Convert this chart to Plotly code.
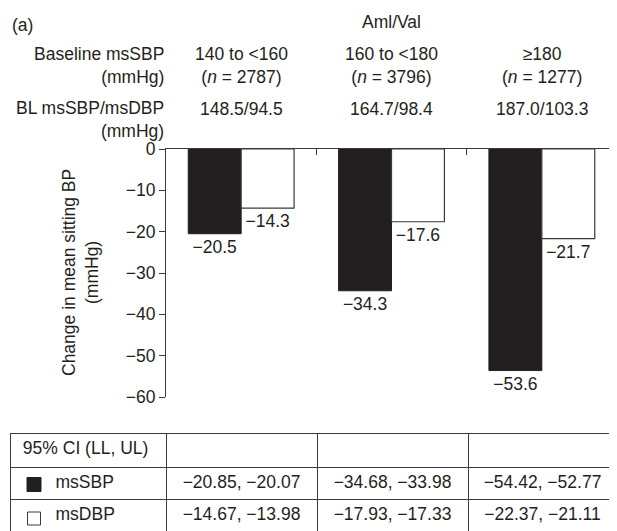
import plotly.graph_objects as go

# ---- data ----
categories = ["140 to <160", "160 to <180", "≥180"]
n_values = [2787, 3796, 1277]
baseline_bp = ["148.5/94.5", "164.7/98.4", "187.0/103.3"]
msSBP = [-20.5, -34.3, -53.6]
msDBP = [-14.3, -17.6, -21.7]
ci_sbp = ["−20.85, −20.07", "−34.68, −33.98", "−54.42, −52.77"]
ci_dbp = ["−14.67, −13.98", "−17.93, −17.33", "−22.37, −21.11"]
y_ticks = [0, -10, -20, -30, -40, -50, -60]

# the page body has an 8px margin; the figure runs a little past the bottom of the view
OFF = 8
W = 617 - OFF
H = 531 - OFF + 4
FONT = "Liberation Sans, Arial, Helvetica, sans-serif"
FS = 17.5
TXT = "#231f20"
LINE = "#3a3a3a"

def px_y(y):
    return (H - (y - OFF)) / H

def px_x(x):
    return (x - OFF) / W

xpos = list(range(len(categories)))

fig = go.Figure()
fig.add_trace(go.Bar(
    x=xpos, y=msSBP, name="msSBP",
    marker=dict(color="#231f20", line=dict(color="#231f20", width=1)),
    text=[f"{v:.1f}".replace("-", "−") for v in msSBP],
    textposition="outside", textfont=dict(size=FS, color=TXT, family=FONT),
    cliponaxis=False,
))
fig.add_trace(go.Bar(
    x=xpos, y=msDBP, name="msDBP",
    marker=dict(color="white", line=dict(color=LINE, width=1.2)),
    text=[f"{v:.1f}".replace("-", "−") for v in msDBP],
    textposition="outside", textfont=dict(size=FS, color=TXT, family=FONT),
    cliponaxis=False,
))

# ---- table ----
NB = "\u00a0"
KEYPAD = NB * 7 + "\u2009"
fig.add_trace(go.Table(
    domain=dict(x=[px_x(10), 1], y=[px_y(531), px_y(433)]),
    columnwidth=[156, 151, 151, 149],
    header=dict(
        values=[NB + "95% CI (LL, UL)", "", "", ""],
        align=["left", "center", "center", "center"],
        line=dict(color=LINE, width=1),
        fill=dict(color="white"),
        font=dict(size=FS, color=TXT, family=FONT),
        height=34,
    ),
    cells=dict(
        values=[
            [KEYPAD + "msSBP", KEYPAD + "msDBP"],
            [ci_sbp[0], ci_dbp[0]],
            [ci_sbp[1], ci_dbp[1]],
            [ci_sbp[2], ci_dbp[2]],
        ],
        align=["left", "center", "center", "center"],
        line=dict(color=LINE, width=1),
        fill=dict(color="white"),
        font=dict(size=FS, color=TXT, family=FONT),
        height=32,
    ),
))

# legend keys inside the table
shapes = [
    dict(type="rect", xref="paper", yref="paper",
         x0=px_x(27), x1=px_x(41), y0=px_y(491.5), y1=px_y(477.5),
         fillcolor="#231f20", line=dict(color="#231f20", width=1)),
    dict(type="rect", xref="paper", yref="paper",
         x0=px_x(27.5), x1=px_x(40.5), y0=px_y(525), y1=px_y(512),
         fillcolor="white", line=dict(color=LINE, width=1)),
]

annotations = []
annotations.append(dict(text="(a)", x=px_x(10), y=px_y(25), xref="paper", yref="paper",
                        xanchor="left", yanchor="middle", showarrow=False))
annotations.append(dict(text="Aml/Val", x=1, y=px_y(22), xref="x", yref="paper",
                        xanchor="center", yanchor="middle", showarrow=False))
annotations.append(dict(text="Baseline msSBP<br>(mmHg)", x=px_x(166), y=px_y(65.5), xref="paper", yref="paper",
                        xanchor="right", yanchor="middle", align="right", showarrow=False))
annotations.append(dict(text="BL msSBP/msDBP<br>(mmHg)", x=px_x(166), y=px_y(119.5), xref="paper", yref="paper",
                        xanchor="right", yanchor="middle", align="right", showarrow=False))
for i, (cat, n, bl) in enumerate(zip(categories, n_values, baseline_bp)):
    annotations.append(dict(text=f"{cat.replace('<', '&lt;')}<br>(<i>n</i> = {n})", x=i, y=px_y(65.5),
                            xref="x", yref="paper", xanchor="center", yanchor="middle",
                            align="center", showarrow=False))
    annotations.append(dict(text=bl, x=i, y=px_y(109), xref="x", yref="paper",
                            xanchor="center", yanchor="middle", showarrow=False))
annotations.append(dict(text="Change in mean sitting BP<br>(mmHg)", x=px_x(80), y=px_y(273),
                        xref="paper", yref="paper", textangle=-90, xanchor="center", yanchor="middle",
                        align="center", showarrow=False))

fig.update_layout(
    width=W, height=H,
    margin=dict(l=0, r=0, t=0, b=0),
    paper_bgcolor="white", plot_bgcolor="white",
    font=dict(family=FONT, size=FS, color=TXT),
    showlegend=False,
    barmode="group", bargap=0.296, bargroupgap=0,
    annotations=annotations,
    shapes=shapes,
    xaxis=dict(
        domain=[px_x(166), 1], range=[-0.5, 2.5], side="top",
        showline=True, linecolor=LINE, linewidth=1.2,
        ticks="inside", tickvals=[0.5, 1.5], ticklen=6, tickcolor=LINE,
        showticklabels=False, showgrid=False, zeroline=False, fixedrange=True,
        automargin=False,
    ),
    yaxis=dict(
        domain=[px_y(397), px_y(149)], range=[-60, 0],
        tickvals=y_ticks, ticks="outside", ticklen=6, tickcolor=LINE,
        showline=True, linecolor=LINE, linewidth=1.2,
        showgrid=False, zeroline=False, tickfont=dict(size=FS, color=TXT),
        fixedrange=True, automargin=False,
    ),
)

fig.write_html("out.html")
